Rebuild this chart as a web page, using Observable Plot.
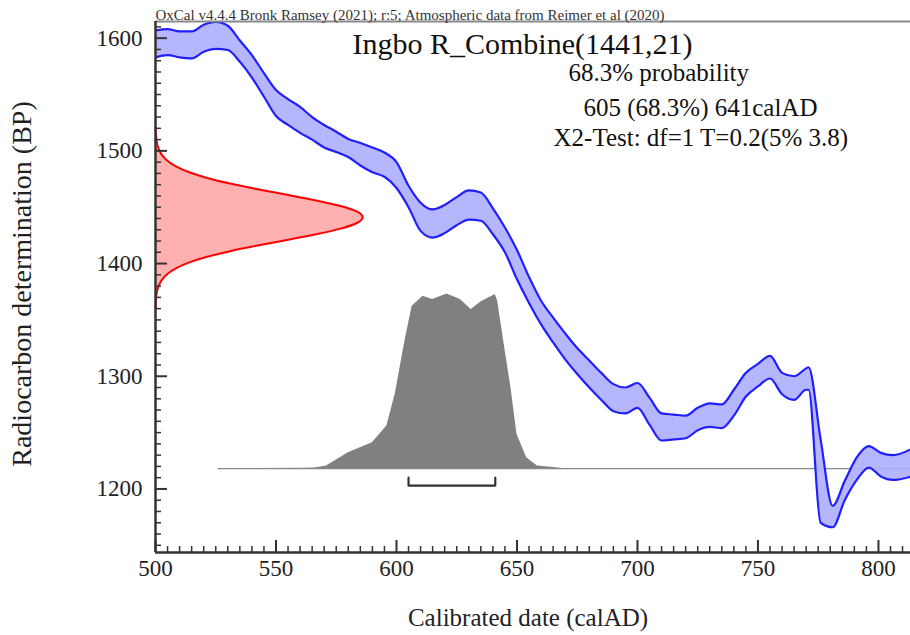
<!DOCTYPE html>
<html><head><meta charset="utf-8">
<script src="https://cdn.jsdelivr.net/npm/d3@7"></script>
<script src="https://cdn.jsdelivr.net/npm/@observablehq/plot@0.6"></script>
<style>body{margin:0;background:#fff;}</style>
</head><body><div id="chart"></div>
<script>
// Calibration curve (IntCal20 band): year calAD, upper and lower BP
const calYears  = [500,505,510,515,520,525,530,535,540,545,550,555,560,565,570,575,580,585,590,595,600,605,610,615,620,625,630,635,640,645,650,655,660,665,670,675,680,685,690,695,700,705,710,715,720,725,730,735,740,745,750,755,760,765,770,771,776,781,786,791,796,801,806,815];
const curveUpper = [1607,1608,1606,1606,1612,1614.5,1611,1598,1585,1569,1554,1546,1539,1530,1523,1517,1510.6,1507,1503,1498.5,1490,1469,1454,1448,1452,1459,1465,1463,1449,1432,1412,1388,1367,1352,1338,1325,1314,1303,1293,1290,1294,1281,1267,1266,1265,1272,1276,1275,1288,1303,1311,1318,1303,1300,1307,1308,1244,1185,1207,1228,1238,1232,1230,1237];
const curveLower = [1583,1585,1583,1582,1588,1590.5,1589.5,1579,1565,1548,1531,1523,1516,1510,1503,1499,1494.5,1487,1481,1477,1467,1450,1429,1423,1427,1434,1439,1438,1426,1410,1386,1365,1346,1330,1315,1302,1290,1279,1269,1267,1272,1257,1243,1244,1245,1252,1255,1254,1265,1282,1291,1298,1284,1279,1288,1288,1170,1166,1190,1208,1219,1211,1208,1212];

// Radiocarbon likelihood R_Combine(1441,21): BP and relative density
const likeBP = [1361,1366,1371,1376,1381,1386,1391,1396,1401,1406,1411,1416,1421,1426,1431,1436,1441,1446,1451,1456,1461,1466,1471,1476,1481,1486,1491,1496,1501,1506,1511,1516,1521];
const likeP  = [0.0007,0.0017,0.0039,0.0083,0.0169,0.0324,0.0588,0.1007,0.163,0.249,0.36,0.492,0.635,0.775,0.893,0.972,1,0.972,0.893,0.775,0.635,0.492,0.36,0.249,0.163,0.1007,0.0588,0.0324,0.0169,0.0083,0.0039,0.0017,0.0007];

// Calibrated posterior distribution: year calAD and relative probability
const postYears = [526,560,566,571,580,590,596,599.5,603.5,606.5,611,615,621,626.5,631,635,641,642,644.5,647.5,650,654,658.5,665,670];
const postP     = [0,0.002,0.004,0.015,0.091,0.149,0.244,0.427,0.73,0.93,0.987,0.968,1.0,0.968,0.911,0.954,0.997,0.958,0.73,0.463,0.197,0.063,0.015,0.006,0];

// 68.3% range
const rangeStart = 605, rangeEnd = 641;

const xTickLabels = [500,550,600,650,700,750,800];
const yTickLabels = [1200,1300,1400,1500,1600];

const titleText = "Ingbo R_Combine(1441,21)";
const infoLines = ["68.3% probability", "605 (68.3%) 641calAD", "X2-Test: df=1 T=0.2(5% 3.8)"];
const creditText = "OxCal v4.4.4 Bronk Ramsey (2021); r:5; Atmospheric data from Reimer et al (2020)";

// ---- layout ----
const W = 910, H = 635, mL = 155, mR = 0, mT = 21, mB = 83;
const xDom = [500, 813.3], yDom = [1143.6, 1614.8];
const kx = (xDom[1] - xDom[0]) / (W - mL - mR);
const ky = (yDom[1] - yDom[0]) / (H - mT - mB);
const base = 1218, postScale = 155, likeScale = 86;
const bracketY = 1203, bracketTop = 1210;

const band = calYears.map((x, i) => ({x, hi: curveUpper[i], lo: curveLower[i]}));
const like = likeBP.map((y, i) => ({y, x: xDom[0] + likeScale * likeP[i]}));
const post = postYears.map((x, i) => ({x, y: base + postScale * postP[i]}));
const bracket = [{x: rangeStart, y: bracketTop}, {x: rangeStart, y: bracketY}, {x: rangeEnd, y: bracketY}, {x: rangeEnd, y: bracketTop}];

const xMinor = d3.range(500, 815, 5).filter(d => d % 50 !== 0);
const yMinor = d3.range(1150, 1615, 10).filter(d => d % 100 !== 0);
const axisCol = "#333";

const chart = Plot.plot({
  width: W, height: H,
  marginLeft: mL, marginRight: mR, marginTop: mT, marginBottom: mB,
  x: {domain: xDom, label: null},
  y: {domain: yDom, label: null},
  style: {fontFamily: "'Liberation Serif','Times New Roman',serif", background: "#fff", color: "#222", overflow: "visible"},
  marks: [
    Plot.areaX(like, {y: "y", x1: xDom[0], x2: "x", fill: "#ffb0b0", curve: "monotone-y"}),
    Plot.line(like, {x: "x", y: "y", stroke: "#ff0000", strokeWidth: 2, curve: "monotone-y"}),
    Plot.areaY(post, {x: "x", y1: base, y2: "y", fill: "#808080"}),
    Plot.ruleY([base], {x1: 526, x2: xDom[1], stroke: "#888", strokeWidth: 1.3}),
    Plot.areaY(band, {x: "x", y1: "lo", y2: "hi", fill: "#b0b0ff", fillOpacity: 0.92, curve: "monotone-x", clip: true}),
    Plot.line(band, {x: "x", y: "hi", stroke: "#1f1fff", strokeWidth: 2.2, curve: "monotone-x", clip: true}),
    Plot.line(band, {x: "x", y: "lo", stroke: "#1f1fff", strokeWidth: 2.2, curve: "monotone-x", clip: true}),
    Plot.line(bracket, {x: "x", y: "y", stroke: "#333", strokeWidth: 2.2}),
    // axis frame
    Plot.ruleY([yDom[1]], {stroke: "#888", strokeWidth: 2}),
    Plot.ruleX([xDom[0]], {stroke: axisCol, strokeWidth: 2.5}),
    Plot.ruleY([yDom[0]], {stroke: axisCol, strokeWidth: 2.5}),
    // inward ticks
    Plot.ruleX(xTickLabels, {y1: yDom[0], y2: yDom[0] + 12 * ky, stroke: axisCol, strokeWidth: 2}),
    Plot.ruleX(xMinor, {y1: yDom[0], y2: yDom[0] + 6 * ky, stroke: axisCol, strokeWidth: 1.5}),
    Plot.ruleY(yTickLabels, {x1: xDom[0], x2: xDom[0] + 12 * kx, stroke: axisCol, strokeWidth: 2}),
    Plot.ruleY(yMinor, {x1: xDom[0], x2: xDom[0] + 6 * kx, stroke: axisCol, strokeWidth: 1.5}),
    Plot.axisX(xTickLabels, {tickSize: 0, tickPadding: 7, fontSize: 23, label: null, tickFormat: d => String(d), fill: "#222"}),
    Plot.axisY(yTickLabels, {tickSize: 0, tickPadding: 13, fontSize: 23, label: null, tickFormat: d => String(d), fill: "#222"}),
    // axis titles
    Plot.text(["Calibrated date (calAD)"], {text: d => d, frameAnchor: "bottom", dx: -5, dy: 65, fontSize: 25, lineAnchor: "middle", textAnchor: "middle", fill: "#222"}),
    Plot.text(["Radiocarbon determination (BP)"], {text: d => d, frameAnchor: "left", dx: -133, dy: -3, rotate: -90, fontSize: 28, lineAnchor: "middle", textAnchor: "middle", fill: "#222"}),
    // annotations
    Plot.text([creditText], {text: d => d, frameAnchor: "top-left", dx: 0, dy: -6.5, fontSize: 15, textAnchor: "start", lineAnchor: "middle", fill: "#333"}),
    Plot.text([titleText], {text: d => d, frameAnchor: "top-left", dx: 197, dy: 23, fontSize: 30, textAnchor: "start", lineAnchor: "middle", fill: "#111"}),
    Plot.text([infoLines[0]], {text: d => d, frameAnchor: "top-left", dx: 413, dy: 51, fontSize: 25, textAnchor: "start", lineAnchor: "middle", fill: "#111"}),
    Plot.text([infoLines[1]], {text: d => d, frameAnchor: "top-left", dx: 428, dy: 86, fontSize: 25, textAnchor: "start", lineAnchor: "middle", fill: "#111"}),
    Plot.text([infoLines[2]], {text: d => d, frameAnchor: "top-left", dx: 398, dy: 116, fontSize: 25, textAnchor: "start", lineAnchor: "middle", fill: "#111"})
  ]
});
document.getElementById("chart").appendChild(chart);
</script>
</body></html>
